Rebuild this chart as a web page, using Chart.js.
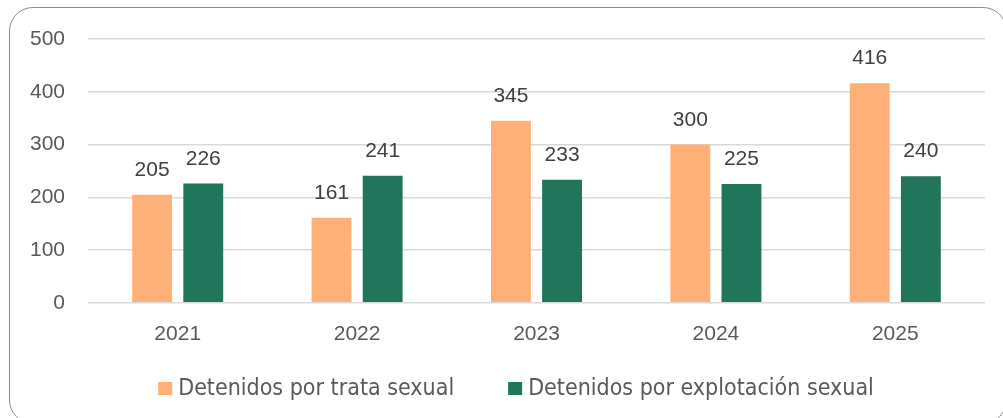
<!DOCTYPE html>
<html>
<head>
<meta charset="utf-8">
<script src="https://cdn.jsdelivr.net/npm/chart.js@4/dist/chart.umd.min.js"></script>
<style>
  html, body { margin: 0; padding: 0; background: #fff; overflow: hidden; }
  #wrap { position: relative; width: 1003px; height: 418px; overflow: hidden; }
  #frame {
    position: absolute; left: 9px; top: 7px; width: 998px; height: 417px;
    border: 1.5px solid #8c8c8c; border-radius: 24px; box-sizing: border-box;
  }
  #c { position: absolute; left: 0; top: 0; }
</style>
</head>
<body>
<div id="wrap">
  <div id="frame"></div>
  <canvas id="c" width="1003" height="418"></canvas>
</div>
<script>
const years = ['2021', '2022', '2023', '2024', '2025'];
const trataSexual = [205, 161, 345, 300, 416];
const explotacionSexual = [226, 241, 233, 225, 240];
const seriesNames = ['Detenidos por trata sexual', 'Detenidos por explotación sexual'];

const ORANGE = '#FFB077';
const GREEN = '#21755A';
const FONT = '"Liberation Sans", Arial, sans-serif';
const LEGEND_FONT = '23px "Liberation Sans Narrow", "DejaVu Sans Condensed", sans-serif';

// value labels above each bar
const valueLabels = {
  id: 'valueLabels',
  afterDatasetsDraw(chart) {
    const ctx = chart.ctx;
    ctx.save();
    ctx.font = '21px ' + FONT;
    ctx.fillStyle = '#404040';
    ctx.textAlign = 'center';
    ctx.textBaseline = 'alphabetic';
    chart.data.datasets.forEach((ds, i) => {
      chart.getDatasetMeta(i).data.forEach((bar, j) => {
        ctx.fillText(String(ds.data[j]), bar.x, bar.y - 19);
      });
    });
    ctx.restore();
  },
};

// legend drawn by hand so box/text spacing can match the original
const bottomLegend = {
  id: 'bottomLegend',
  afterDraw(chart) {
    const ctx = chart.ctx;
    const box = 14, gapText = 6, gapItem = 54, baseline = 395, centerX = 516;
    ctx.save();
    ctx.font = LEGEND_FONT;
    ctx.textBaseline = 'alphabetic';
    ctx.textAlign = 'left';
    const items = chart.data.datasets.map((ds) => ({
      text: ds.label, color: ds.backgroundColor, w: ctx.measureText(ds.label).width,
    }));
    const total = items.reduce((s, it) => s + box + gapText + it.w, 0) + gapItem * (items.length - 1);
    let x = centerX - total / 2;
    items.forEach((it) => {
      ctx.fillStyle = it.color;
      ctx.fillRect(x, baseline - 13, box, 13);
      ctx.fillStyle = '#595959';
      ctx.fillText(it.text, x + box + gapText, baseline);
      x += box + gapText + it.w + gapItem;
    });
    ctx.restore();
  },
};

new Chart(document.getElementById('c'), {
  type: 'bar',
  data: {
    labels: years,
    datasets: [
      { label: seriesNames[0], data: trataSexual, backgroundColor: ORANGE, barPercentage: 0.78, categoryPercentage: 0.57 },
      { label: seriesNames[1], data: explotacionSexual, backgroundColor: GREEN, barPercentage: 0.78, categoryPercentage: 0.57 },
    ],
  },
  options: {
    responsive: false,
    animation: false,
    layout: { padding: { left: 0, right: 18, top: 39, bottom: 52 } },
    plugins: {
      legend: { display: false },
      tooltip: { enabled: false },
    },
    scales: {
      x: {
        grid: { display: false, drawTicks: false },
        border: { display: false },
        ticks: { color: '#595959', padding: 19, font: { family: FONT, size: 21 } },
      },
      y: {
        min: 0,
        max: 500,
        afterFit: (s) => { s.width = 88; },
        ticks: {
          stepSize: 100,
          padding: 23,
          color: '#595959',
          font: { family: FONT, size: 21 },
        },
        grid: { color: '#d9d9d9', lineWidth: 1.5, drawTicks: false },
        border: { display: false },
      },
    },
  },
  plugins: [valueLabels, bottomLegend],
});
</script>
</body>
</html>
